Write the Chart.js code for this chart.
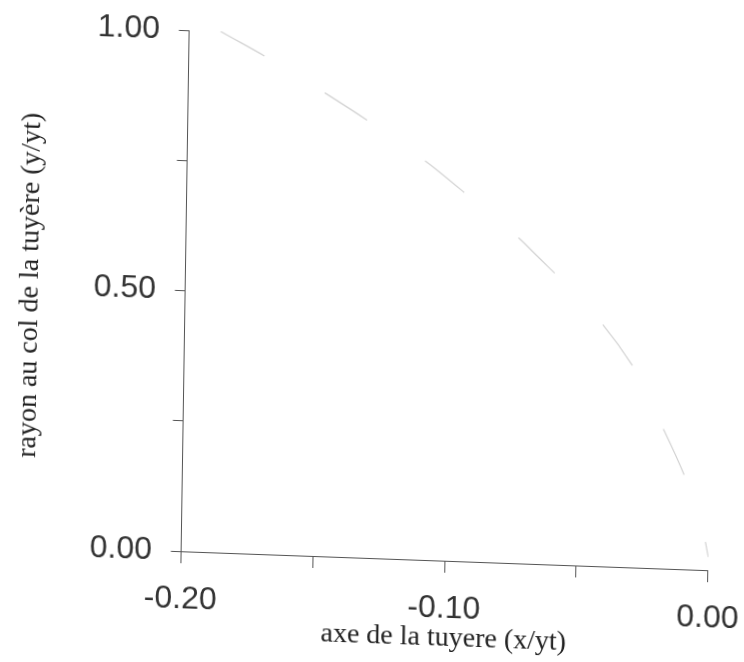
<!DOCTYPE html>
<html>
<head>
<meta charset="utf-8">
<script src="https://cdn.jsdelivr.net/npm/chart.js@4.4.1/dist/chart.umd.min.js"></script>
<style>
  html, body { margin: 0; padding: 0; background: #fff; overflow: hidden; width: 744px; height: 662px; }
  /* the scan is slightly skewed, so the whole sheet is too */
  #wrap { width: 763px; height: 662px; transform: matrix(0.9994, 0.036, -0.0154, 0.9999, 0, 0); transform-origin: 372px 331px; }
</style>
</head>
<body>
<div id="wrap"><canvas id="js--chart" width="763" height="662"></canvas></div>
<script>
// contour of the nozzle (faint line)
const xValues = [-0.188, -0.164, -0.110, -0.091, -0.070, -0.028, -0.023, -0.002, 0.000]
const yValues = [1.000, 0.936, 0.767, 0.693, 0.607, 0.373, 0.322, 0.071, 0.025]

const xLabeled = [-0.20, -0.10, 0.00]
const yLabeled = [0.00, 0.50, 1.00]

const xTitle = "axe de la tuyere (x/yt)"
const yTitle = "rayon au col de la tuyère (y/yt)"

const points = xValues.map((x, i) => ({ x: x, y: yValues[i] }))

const fmt = (v, list) => {
    const hit = list.find(t => Math.abs(t - v) < 1e-6)
    if (hit === undefined) return ""
    return Math.abs(hit) < 1e-9 ? "0.00" : hit.toFixed(2)
}

const tickFont = { family: "'Liberation Sans', Arial, sans-serif", size: 32, lineHeight: 1.0 }
const titleFont = { family: "'Liberation Serif', 'Times New Roman', serif", size: 28, lineHeight: 1.0 }

const data = {
    datasets: [
    {
        data: points,
        borderColor: "#d2d2d2",
        borderWidth: 1.2,
        borderDash: [50, 70],
        pointRadius: 0,
        cubicInterpolationMode: "monotone",
        fill: false,
    }
    ]
}

const config = {
    type: "line",
    data: data,
    options: {
        responsive: false,
        animation: false,
        layout: { padding: { left: 12, right: 0, top: 37, bottom: 10 } },
        plugins: { legend: { display: false }, tooltip: { enabled: false } },
        scales: {
            x: {
                type: "linear",
                min: -0.2,
                max: 0,
                border: { display: true, color: "#555", width: 1 },
                grid: { drawOnChartArea: false, drawTicks: true, tickLength: 12, color: "#555" },
                ticks: {
                    stepSize: 0.05,
                    autoSkip: false,
                    maxRotation: 0,
                    padding: 20,
                    color: "#333",
                    font: tickFont,
                    callback: (v) => fmt(v, xLabeled),
                },
                title: { display: true, text: xTitle, color: "#222", font: titleFont, padding: { top: -20, bottom: 2 } },
            },
            y: {
                min: 0,
                max: 1,
                border: { display: true, color: "#555", width: 1 },
                grid: { drawOnChartArea: false, drawTicks: true, tickLength: 10, color: "#555" },
                ticks: {
                    stepSize: 0.25,
                    autoSkip: false,
                    padding: 19,
                    color: "#333",
                    font: tickFont,
                    callback: (v) => fmt(v, yLabeled),
                },
                title: { display: true, text: yTitle, color: "#222", font: titleFont, padding: { top: 4, bottom: 30 } },
            },
        },
    },
}

new Chart(document.getElementById("js--chart"), config)
</script>
</body>
</html>
